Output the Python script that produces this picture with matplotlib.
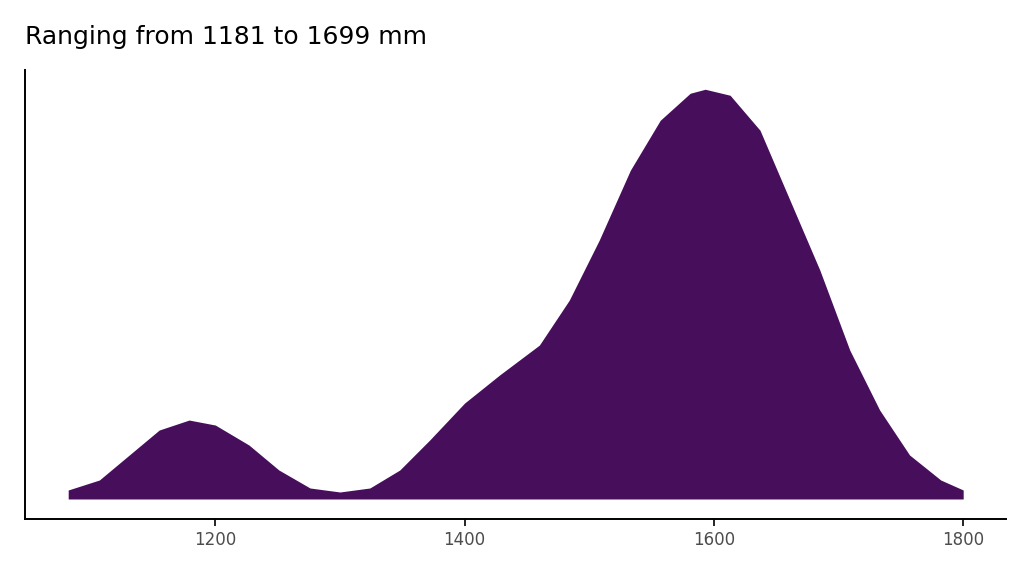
import matplotlib
matplotlib.use("Agg")
import matplotlib.pyplot as plt

# density curve (height in arbitrary units)
height_mm = [1082, 1107, 1131, 1155, 1179, 1200, 1227, 1251, 1276, 1300, 1324,
             1348, 1372, 1400, 1428, 1460, 1484, 1508, 1533, 1557, 1581, 1593,
             1613, 1637, 1661, 1685, 1709, 1733, 1757, 1782, 1800]
density = [9, 19, 44, 69, 79, 74, 54, 29, 11, 7, 11,
           29, 59, 96, 124, 154, 199, 259, 329, 379, 406, 410,
           404, 369, 299, 229, 149, 89, 44, 19, 9]
x_ticks = [1200, 1400, 1600, 1800]

fig, ax = plt.subplots(figsize=(10.24, 5.76), dpi=100)
fig.subplots_adjust(left=0.024, right=0.982, bottom=0.099, top=0.878)

ax.fill_between(height_mm, 0, density, color="#470E5C", linewidth=0)
ax.set_xlim(1047, 1834)
ax.set_ylim(-20, 429)
ax.set_xticks(x_ticks)
ax.set_xticklabels([str(t) for t in x_ticks], fontsize=12, color="#4D4D4D")
ax.set_yticks([])
for s in ("top", "right"):
    ax.spines[s].set_visible(False)
for s in ("left", "bottom"):
    ax.spines[s].set_linewidth(1.4)
ax.tick_params(axis="x", length=5, width=1.2)

fig.text(0.024, 0.915, "Ranging from 1181 to 1699 mm", fontsize=18, ha="left", va="bottom")

fig.savefig("out.png", dpi=100)
